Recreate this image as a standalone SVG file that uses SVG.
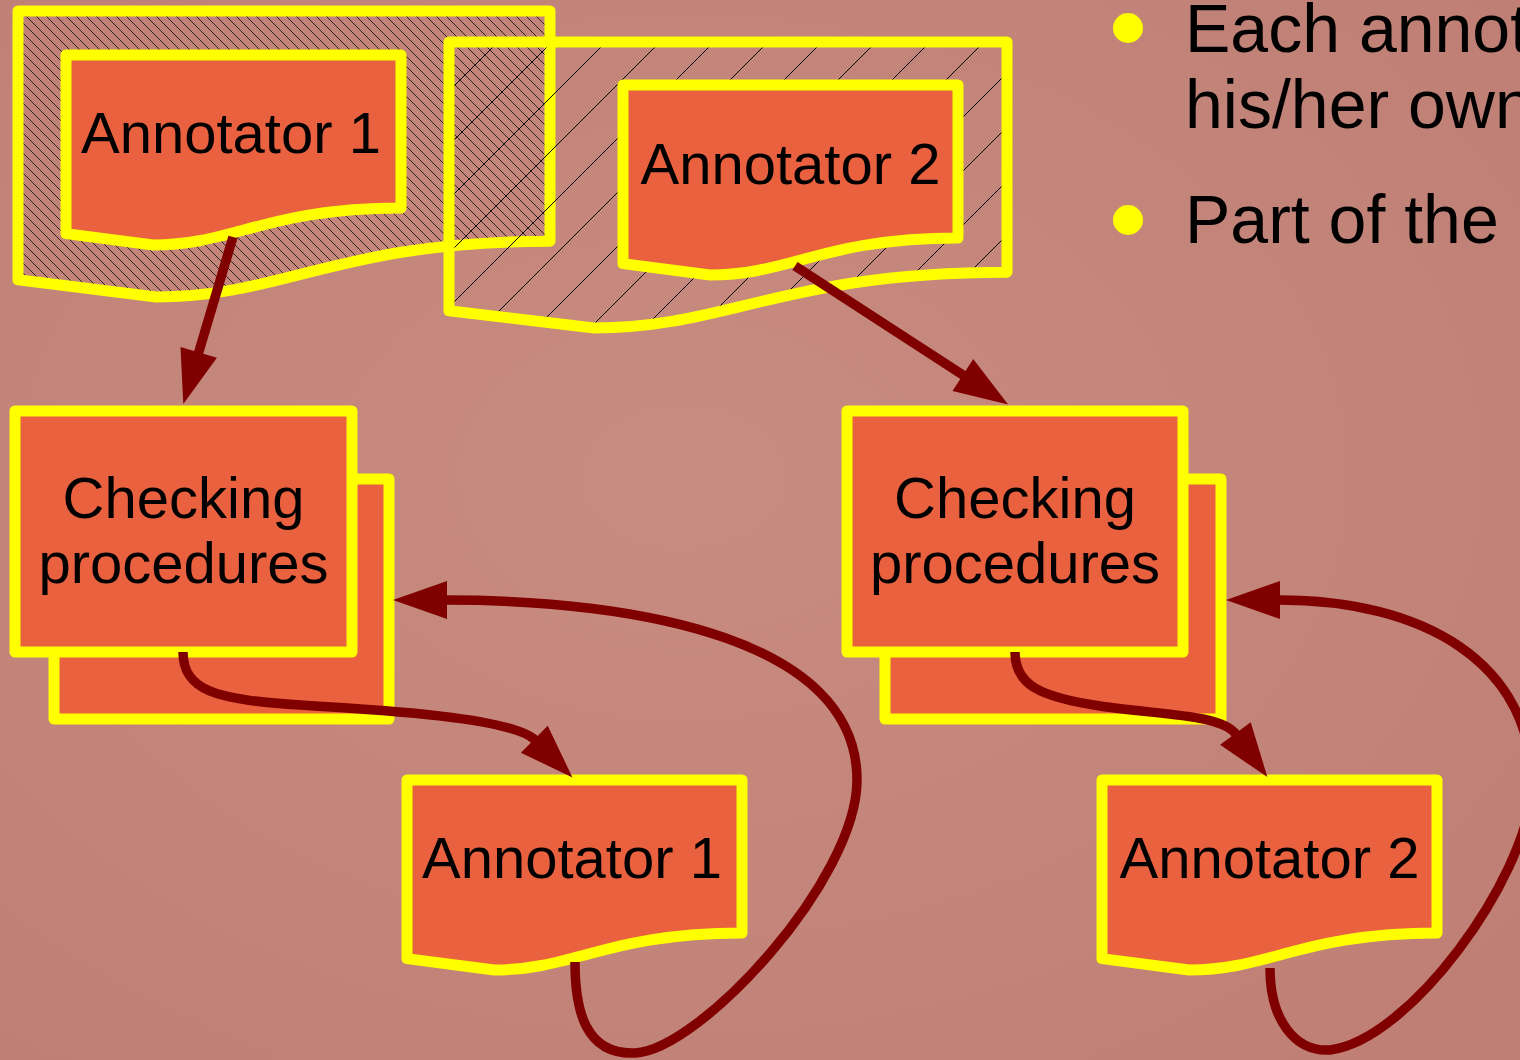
<svg xmlns="http://www.w3.org/2000/svg" width="1520" height="1060" viewBox="0 0 1520 1060">
  <defs>
    <pattern id="hatchDense" patternUnits="userSpaceOnUse" width="10" height="10">
      <path d="M-1,-1 L11,11 M-1,9 L1,11 M9,-1 L11,1" stroke="#000" stroke-opacity="0.75" stroke-width="1" fill="none"/>
    </pattern>
    <pattern id="hatchWide" patternUnits="userSpaceOnUse" width="54" height="54">
      <path d="M-2,56 L56,-2" stroke="#000" stroke-width="1" fill="none"/>
    </pattern>
    <radialGradient id="bgGlow" cx="0.45" cy="0.45" r="0.7">
      <stop offset="0" stop-color="#c98c81"/>
      <stop offset="1" stop-color="#bf7f74"/>
    </radialGradient>
    <marker id="arrowHead" markerUnits="userSpaceOnUse" markerWidth="58" markerHeight="40" refX="1" refY="19" orient="auto" overflow="visible">
      <path d="M0,0 L54,19 L0,38 Z" fill="#800000"/>
    </marker>
  </defs>
  <style>
    .region { stroke: #ffff00; stroke-width: 11; stroke-linejoin: round; }
    .node { fill: #ea6140; stroke: #ffff00; stroke-width: 11; stroke-linejoin: round; }
    .label { font-family: "Liberation Sans", Arial, sans-serif; font-size: 58px; fill: #000; text-anchor: middle; }
    .bullet-text { font-family: "Liberation Sans", Arial, sans-serif; font-size: 68px; fill: #000; }
    .conn { fill: none; stroke: #800000; stroke-width: 9.5; marker-end: url(#arrowHead); }
  </style>

  <rect x="0" y="0" width="1520" height="1060" fill="url(#bgGlow)"/>

  <!-- hatched regions -->
  <g id="region-annotator1">
    <path class="region" fill="url(#hatchDense)" d="M18,11 H550 V241.2 C337.2,241.2 284,297 156.3,297 L18,279.8 Z"/>
  </g>
  <g id="region-annotator2">
    <path class="region" fill="url(#hatchWide)" d="M449,42 H1007 V272.2 C783.8,272.2 728,328 594,328 L449,310.8 Z"/>
  </g>

  <g id="node-annotator1-top">
    <path class="node" d="M66,55 H401 V208 C267,208 233.5,245 153.1,245 L66,233.6 Z"/>
    <text class="label" x="231" y="153">Annotator 1</text>
  </g>
  <g id="node-annotator2-top">
    <path class="node" d="M623,85 H958 V238 C824,238 790.5,275 710.1,275 L623,263.6 Z"/>
    <text class="label" x="790.5" y="184">Annotator 2</text>
  </g>

  <g id="node-checking-left">
    <rect class="node" x="54" y="479" width="335" height="240"/>
    <rect class="node" x="15" y="411" width="337" height="241"/>
    <text class="label" x="183.5" y="518">Checking</text>
    <text class="label" x="183.5" y="583">procedures</text>
  </g>
  <g id="node-checking-right">
    <rect class="node" x="885" y="479" width="336" height="240"/>
    <rect class="node" x="847" y="411" width="336" height="241"/>
    <text class="label" x="1015" y="518">Checking</text>
    <text class="label" x="1015" y="583">procedures</text>
  </g>

  <g id="node-annotator1-bottom">
    <path class="node" d="M407,780 H742 V933 C608,933 574.5,970 494.1,970 L407,958.6 Z"/>
    <text class="label" x="572" y="878">Annotator 1</text>
  </g>
  <g id="node-annotator2-bottom">
    <path class="node" d="M1102,780 H1437 V933 C1303,933 1269.5,970 1189.1,970 L1102,958.6 Z"/>
    <text class="label" x="1269.5" y="878">Annotator 2</text>
  </g>

  <g id="connectors">
    <path class="conn" d="M233,237 L198.4,353.3"/>
    <path class="conn" d="M795,266 L963.7,375.6"/>
    <path class="conn" d="M183,652 C183,690 215,700 300,705 C385,710 513,718 535,740"/>
    <path class="conn" d="M1015,652 C1015,685 1040,697 1100,706 C1160,715 1221,714 1236,734.4"/>
    <path class="conn" d="M575,962 C575,1010 585,1055 635,1053 C700,1050 857,880 857,780 C857,640 640,600 446,600"/>
    <path class="conn" d="M1270,968 C1270,1020 1295,1052 1330,1050 C1410,1040 1525,880 1532,790 C1534,660 1420,600 1279,600"/>
  </g>

  <g id="bullets">
    <circle cx="1128" cy="28" r="15" fill="#ffff00"/>
    <text class="bullet-text" x="1185" y="52">Each annot</text>
    <text class="bullet-text" x="1185" y="128">his/her own</text>
    <circle cx="1128" cy="220" r="15" fill="#ffff00"/>
    <text class="bullet-text" x="1185" y="243">Part of the</text>
  </g>
</svg>
